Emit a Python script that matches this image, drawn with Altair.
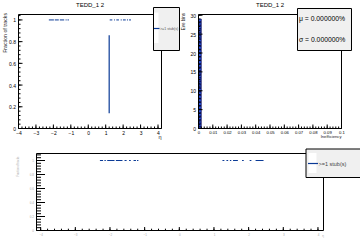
import altair as alt
import pandas as pd

TITLE = "TEDD_1 2"

# ---------------- data ----------------
# Top-left: fraction of tracks vs eta (bins drawn at value 1)
tl_lo = [-2.26, -1.92, -1.63, -1.30, -1.19, 1.23, 1.48, 1.61, 1.86, 1.99, 2.22, 2.34]
tl_hi = [-1.97, -1.69, -1.38, -1.24, -1.11, 1.38, 1.53, 1.76, 1.92, 2.15, 2.28, 2.45]
tl_val = [1.0, 1.0, 1.0, 1.0, 1.0, 1.0, 1.0, 1.0, 1.0, 1.0, 1.0, 1.0]
tl_err_eta = [1.2]
tl_err_lo = [0.14]
tl_err_hi = [0.86]

# Top-right: inefficiency histogram
tr_lo = [0.0]
tr_hi = [0.002]
tr_mid = [0.001]
tr_count = [29]

# Bottom: fraction vs eta
b_lo = [-2.29, -2.16, -2.08, -1.83, -1.58, -1.45, -1.32, -1.22, 1.245, 1.36, 1.46, 1.55, 1.81, 2.03, 2.20]
b_hi = [-2.20, -2.12, -1.87, -1.64, -1.52, -1.40, -1.25, -1.18, 1.30, 1.41, 1.50, 1.69, 1.86, 2.08, 2.43]
b_val = [1.0, 1.0, 1.0, 1.0, 1.0, 1.0, 1.0, 1.0, 1.0, 1.0, 1.0, 1.0, 1.0, 1.0, 1.0]

eta_major = [-4, -3, -2, -1, 0, 1, 2, 3, 4]
frac_major = [0, 0.2, 0.4, 0.6, 0.8, 1.0]
ineff_major = [0, 0.01, 0.02, 0.03, 0.04, 0.05, 0.06, 0.07, 0.08, 0.09, 0.1]
count_major = [0, 5, 10, 15, 20, 25, 30]

BLUE = "#0a3a96"
FONT = "Liberation Sans"
W, H = 360, 240


def minor(lo, hi, step):
    n = int(round((hi - lo) / step))
    return [round(lo + i * step, 6) for i in range(n + 1)]


one = pd.DataFrame({"k": [0]})


def rect(x1, x2, y1, y2, fill="white", stroke="", fill_opacity=1.0):
    kw = dict(fill=fill, fillOpacity=fill_opacity)
    if stroke:
        kw.update(stroke=stroke, strokeWidth=1)
    return alt.Chart(one).mark_rect(**kw).encode(
        x=alt.value(x1), x2=alt.value(x2), y=alt.value(y1), y2=alt.value(y2))


def text(s, x, y, size, color="black", align="left", angle=0, weight="normal"):
    kw = dict(text=s, fontSize=size, color=color, align=align, baseline="middle",
              font=FONT, fontWeight=weight)
    if angle:
        kw["angle"] = angle
    return alt.Chart(one).mark_text(**kw).encode(x=alt.value(x), y=alt.value(y))


def hline(x1, x2, y, color, width=1.0):
    return alt.Chart(one).mark_rule(color=color, strokeWidth=width).encode(
        x=alt.value(x1), x2=alt.value(x2), y=alt.value(y))


def yticks(vals, scale, axis, x0, length):
    return alt.Chart(pd.DataFrame({"v": vals})).mark_rule(color="black", strokeWidth=1).encode(
        y=alt.Y("v:Q", scale=scale, axis=axis), x=alt.value(x0), x2=alt.value(x0 + length))


def xticks(vals, scale, axis, y0, length):
    return alt.Chart(pd.DataFrame({"v": vals})).mark_rule(color="black", strokeWidth=1).encode(
        x=alt.X("v:Q", scale=scale, axis=axis), y=alt.value(y0), y2=alt.value(y0 - length))


def xaxis(vals, y0, size, color, fmt, pad=2.0):
    return alt.Axis(title="", values=vals, orient="bottom", offset=y0 - H, ticks=False,
                    domain=False, grid=False, labelFontSize=size, labelPadding=pad,
                    labelColor=color, labelFont=FONT, labelOverlap=False,
                    labelFlush=False, format=fmt)


def yaxis(vals, x0, size, color, fmt, pad=3.0):
    return alt.Axis(title="", values=vals, orient="left", offset=-x0, ticks=False,
                    domain=False, grid=False, labelFontSize=size, labelPadding=pad,
                    labelColor=color, labelFont=FONT, labelOverlap=False,
                    labelFlush=False, format=fmt)


# ---------------- panel A (top-left) ----------------
AX0, AX1, AY0, AY1 = 18.5, 161.5, 14.5, 128.5
xsA = alt.Scale(domain=[-4, 4.2], range=[AX0, AX1], nice=False, zero=False)
ysA = alt.Scale(domain=[0, 1.05], range=[AY1, AY0], nice=False, zero=False)
axA_x = xaxis(eta_major, AY1, 5, "black", "d")
axA_y = yaxis(frac_major, AX0, 5, "black", "~g")

dfA = pd.DataFrame({"lo": tl_lo, "hi": tl_hi, "v": tl_val})
dfAerr = pd.DataFrame({"eta": tl_err_eta, "lo": tl_err_lo, "hi": tl_err_hi})

A = alt.layer(
    alt.Chart(dfA).mark_rule(color=BLUE, strokeWidth=1).encode(
        x=alt.X("lo:Q", scale=xsA, axis=axA_x), x2="hi:Q",
        y=alt.Y("v:Q", scale=ysA, axis=axA_y)),
    alt.Chart(dfAerr).mark_rule(color=BLUE, strokeWidth=1.2).encode(
        x=alt.X("eta:Q", scale=xsA, axis=axA_x),
        y=alt.Y("lo:Q", scale=ysA, axis=axA_y), y2="hi:Q"),
    yticks(frac_major, ysA, axA_y, AX0, 4),
    yticks(minor(0, 1.04, 0.04), ysA, axA_y, AX0, 2),
    xticks(eta_major, xsA, axA_x, AY1, 4),
    xticks(minor(-4, 4.2, 0.2), xsA, axA_x, AY1, 2),
)

# ---------------- panel B (top-right) ----------------
BX0, BX1, BY0, BY1 = 198.5, 341.5, 14.5, 128.5
xsB = alt.Scale(domain=[0, 0.1], range=[BX0, BX1], nice=False, zero=False)
ysB = alt.Scale(domain=[0, 30.2], range=[BY1, BY0], nice=False, zero=False)
axB_x = xaxis(ineff_major, BY1, 4.2, "black", "~g")
axB_y = yaxis(count_major, BX0, 5, "black", "d")

dfB = pd.DataFrame({"lo": tr_lo, "hi": tr_hi, "mid": tr_mid, "n": tr_count, "z": [0]})

B = alt.layer(
    alt.Chart(dfB).mark_rect(fill="#10186a", stroke="#000050", strokeWidth=0.5).encode(
        x=alt.X("lo:Q", scale=xsB, axis=axB_x), x2="hi:Q",
        y=alt.Y("n:Q", scale=ysB, axis=axB_y), y2="z:Q"),
    alt.Chart(dfB).mark_rule(color="#2a5cff", strokeWidth=1.4, strokeDash=[2, 1.5]).encode(
        x=alt.X("mid:Q", scale=xsB, axis=axB_x),
        y=alt.Y("n:Q", scale=ysB, axis=axB_y), y2="z:Q"),
    yticks(count_major, ysB, axB_y, BX0, 4),
    yticks(minor(0, 30, 1), ysB, axB_y, BX0, 2),
    xticks(ineff_major, xsB, axB_x, BY1, 4),
    xticks(minor(0, 0.1, 0.002), xsB, axB_x, BY1, 2),
)

# ---------------- panel C (bottom) ----------------
CX0, CX1, CY0, CY1 = 36.5, 323.5, 153.5, 230.5
xsC = alt.Scale(domain=[-4.12, 4.16], range=[CX0, CX1], nice=False, zero=False)
ysC = alt.Scale(domain=[0, 1.1], range=[CY1, CY0], nice=False, zero=False)
axC_x = xaxis(eta_major, CY1, 3, "#aaa", "d", pad=2.5)
axC_y = yaxis(frac_major, CX0, 3, "#aaa", "~g")

dfC = pd.DataFrame({"lo": b_lo, "hi": b_hi, "v": b_val})

C = alt.layer(
    alt.Chart(dfC).mark_rule(color=BLUE, strokeWidth=1).encode(
        x=alt.X("lo:Q", scale=xsC, axis=axC_x), x2="hi:Q",
        y=alt.Y("v:Q", scale=ysC, axis=axC_y)),
    yticks(frac_major, ysC, axC_y, CX0, 8.5),
    yticks(minor(0, 1.08, 0.04), ysC, axC_y, CX0, 4.5),
    xticks(eta_major, xsC, axC_x, CY1, 3.5),
    xticks(minor(-4, 4, 0.2), xsC, axC_x, CY1, 1.8),
)

# ---------------- frames, titles, legends ----------------
deco = alt.layer(
    rect(AX0, AX1, AY0, AY1, fill="white", stroke="black", fill_opacity=0),
    rect(BX0, BX1, BY0, BY1, fill="white", stroke="black", fill_opacity=0),
    rect(CX0, CX1, CY0, CY1, fill="white", stroke="black", fill_opacity=0),
    text(TITLE, 90, 4.5, 6, align="center"),
    text(TITLE, 270, 4.5, 6, align="center"),
    text("Fraction of tracks", 5, 13, 5.2, color="#222", align="right", angle=270),
    text("η", 160, 136.5, 5.5, color="#222", align="center"),
    text("Eve bins", 184, 13, 4.5, color="#222", align="right", angle=270),
    text("Inefficiency", 341.5, 136.7, 4.2, color="#222", align="right"),
    text("Fraction of tracks", 18.3, 156.7, 2.6, color="#aaa", align="right", angle=270),
    text("η", 323, 236, 3, color="#aaa", align="center"),
    # legend top-left
    rect(153.5, 179.5, 7.5, 50.5, fill="#f0f0f0", stroke="black"),
    rect(154, 158.5, 12.5, 43, fill="white"),
    hline(154, 159.5, 28.5, BLUE, 1.2),
    text(">=1 stub(s)", 160, 28.5, 3.6, color="#555"),
    # stats box
    rect(297.5, 351.5, 8.5, 50.5, fill="#f0f0f0", stroke="black"),
    text("μ = 0.000000%", 299, 18.5, 6.8),
    text("σ = 0.000000%", 299, 39.5, 6.8),
    # legend bottom
    rect(306, 362, 149, 177.5, fill="#f0f0f0", stroke="black"),
    rect(308.5, 316.5, 153, 173, fill="white"),
    hline(308, 318, 163.5, BLUE, 1.2),
    text(">=1 stub(s)", 318.5, 163.5, 5.5, color="#444"),
)

chart = alt.layer(A, B, C, deco).resolve_scale(
    x="independent", y="independent"
).resolve_axis(
    x="independent", y="independent"
).properties(
    width=W, height=H, padding=0, background="white",
    autosize=alt.AutoSizeParams(type="none"),
).configure(font=FONT, view=alt.ViewConfig(stroke="transparent"))

chart.save("out.html", embed_options={"renderer": "svg", "actions": False})
